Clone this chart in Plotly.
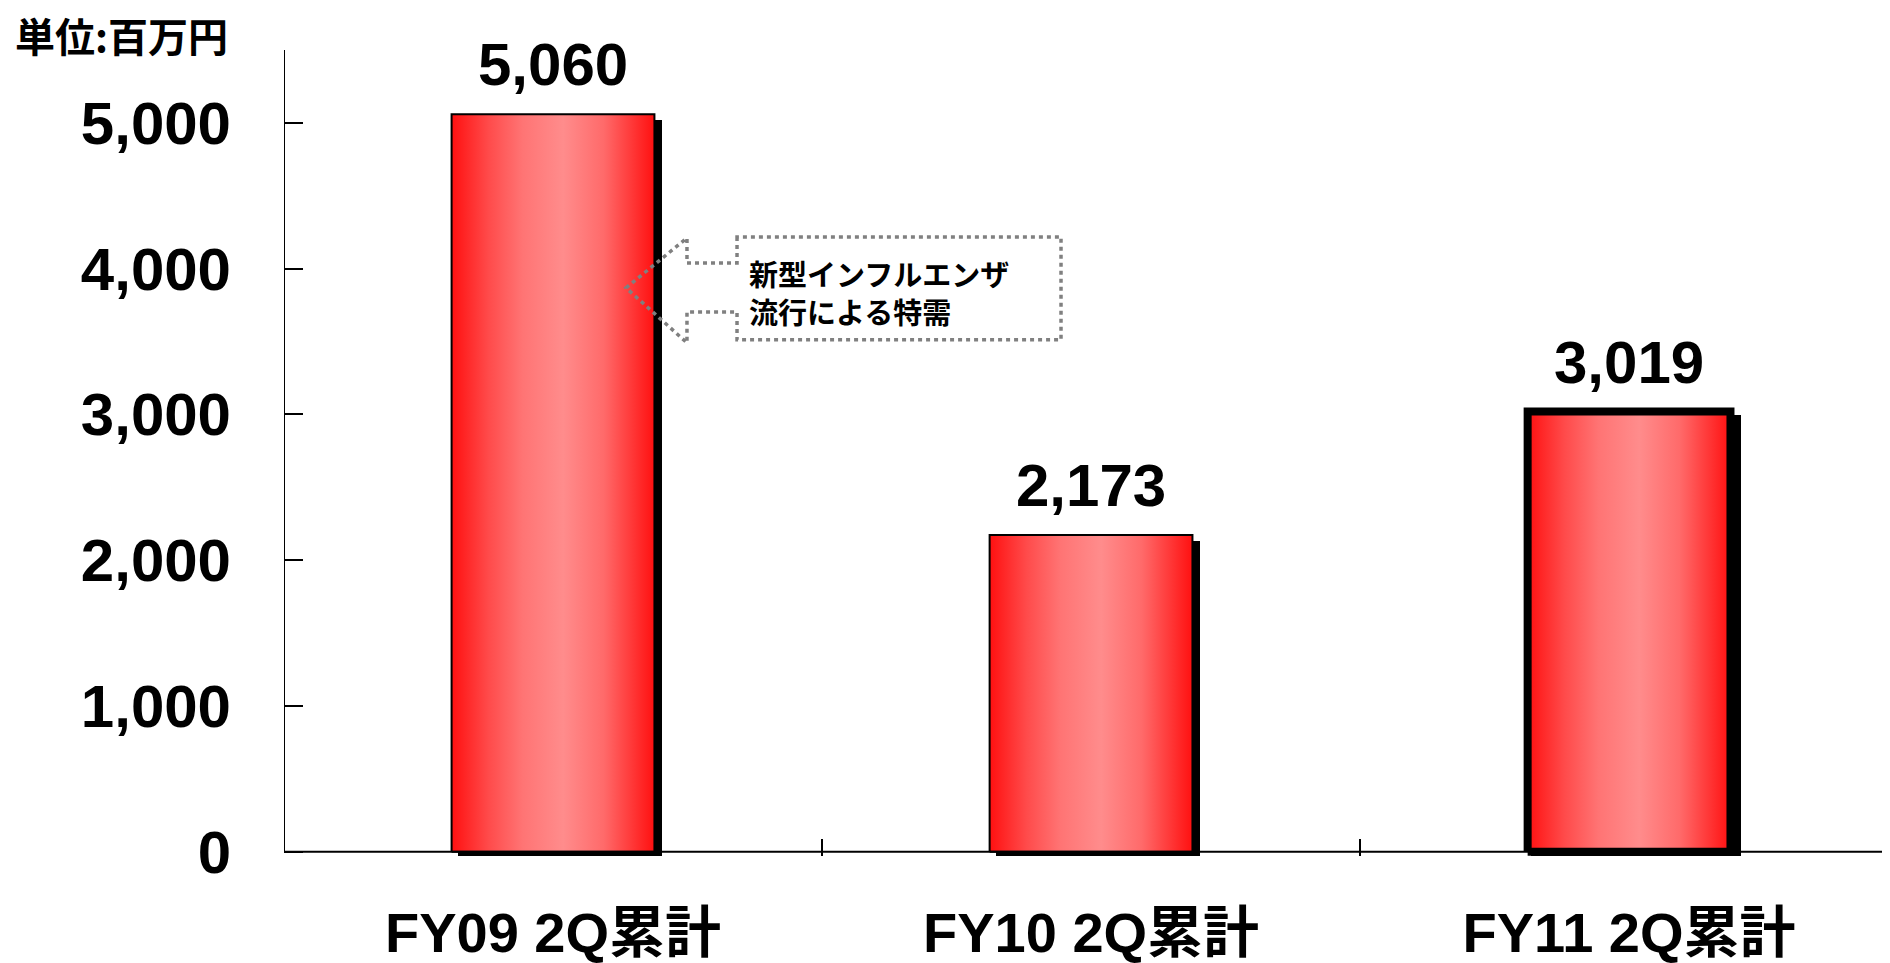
import plotly.graph_objects as go

# ---------------- data ----------------
categories = ["FY09 2Q累計", "FY10 2Q累計", "FY11 2Q累計"]
values = [5060, 2173, 3019]
y_tick_values = [0, 1000, 2000, 3000, 4000, 5000]
unit_label = "単位:百万円"
callout_lines = ["新型インフルエンザ", "流行による特需"]

# ---------------- style ----------------
FONT = "Liberation Sans, Noto Sans CJK JP, sans-serif"
CJK = "Noto Sans CJK JP, sans-serif"
BAR_W = 0.377
border_widths = [2, 2, 8]
Y_MIN, Y_MAX = -30, 5500
X_MIN, X_MAX = -0.5, 2.485

OFF = 8                      # page body margin of the html
W, H = 1890 - OFF, 963 - OFF
# target geometry in screenshot pixels
SCR_LEFT, SCR_ZERO, SCR_TOP = 284, 852, 50
px_per_y = (SCR_ZERO - SCR_TOP) / Y_MAX
SCR_BOTTOM = SCR_ZERO - Y_MIN * px_per_y
L = SCR_LEFT - OFF
T = SCR_TOP - OFF
B = H - (SCR_BOTTOM - OFF)
px_per_x = (W - L) / (X_MAX - X_MIN)
plot_h = SCR_BOTTOM - SCR_TOP


def px2x(p):
    return (p - SCR_LEFT) / px_per_x + X_MIN


def py2y(p):
    return (SCR_ZERO - p) / px_per_y


shadow_dx = 7 / px_per_x
shadow_dy = 7 / px_per_y

gradient = [[0.0, "#ff1010"], [0.18, "#ff4a4a"], [0.35, "#ff7474"],
            [0.55, "#ff8c8c"], [0.75, "#ff6a6a"], [0.9, "#ff3434"], [1.0, "#ff1010"]]

fig = go.Figure()

# shadows
fig.add_trace(go.Bar(
    x=[i + shadow_dx for i in range(len(values))],
    y=[v - shadow_dy - Y_MIN for v in values],
    base=[Y_MIN] * len(values),
    width=BAR_W,
    marker=dict(color="black", line=dict(color="black", width=border_widths)),
    hoverinfo="skip", showlegend=False,
))

# gradient bars
for i, v in enumerate(values):
    x0, x1 = i - BAR_W / 2, i + BAR_W / 2
    fig.add_trace(go.Scatter(
        x=[x0, x1, x1, x0, x0], y=[0, 0, v, v, 0],
        mode="lines", fill="toself",
        fillgradient=dict(type="horizontal", colorscale=gradient),
        line=dict(color="black", width=border_widths[i]),
        hoverinfo="skip", showlegend=False,
    ))

# value labels
for i, v in enumerate(values):
    fig.add_annotation(x=i, y=v, text=f"{v:,}", showarrow=False,
                       xanchor="center", yanchor="bottom", yshift=14,
                       font=dict(family=FONT, size=60, color="black", weight="bold"))

# axes lines as shapes (so that bars can overhang zero slightly)
fig.add_shape(type="line", xref="x", yref="y", x0=X_MIN, x1=X_MAX, y0=0, y1=0,
              line=dict(color="black", width=2), layer="above")
fig.add_shape(type="line", xref="x", yref="y", x0=X_MIN, x1=X_MIN, y0=0, y1=Y_MAX,
              line=dict(color="black", width=2), layer="above")

# callout (dotted box with arrow pointing left)
pts = [(737, 237), (737, 263), (687, 263), (687, 238), (626, 288), (687, 343),
       (687, 312), (737, 312), (737, 340), (1061, 340), (1061, 237)]
path = "M " + " L ".join(f"{px2x(a):.4f},{py2y(b):.2f}" for a, b in pts) + " Z"
fig.add_shape(type="path", xref="x", yref="y", path=path,
              line=dict(color="#808080", width=3.5, dash="4px,4px"), layer="above")
for k, line_text in enumerate(callout_lines):
    fig.add_annotation(x=px2x(748), y=py2y(273 + 38 * k), text=line_text,
                       showarrow=False, xanchor="left", yanchor="middle",
                       align="left", borderpad=0,
                       font=dict(family=CJK, size=29, color="black", weight="bold"))

# unit label
fig.add_annotation(xref="paper", yref="paper", x=(14 - SCR_LEFT) / (W - L),
                   y=(SCR_BOTTOM - 35) / plot_h, text=unit_label, showarrow=False,
                   xanchor="left", yanchor="middle", borderpad=0,
                   font=dict(family=CJK, size=40, color="black", weight="bold"))

fig.update_layout(
    width=W, height=H,
    margin=dict(l=L, r=0, t=T, b=B, pad=0),
    paper_bgcolor="white", plot_bgcolor="white",
    showlegend=False,
    bargap=0,
    xaxis=dict(range=[X_MIN, X_MAX], tickmode="array", tickvals=[0, 1, 2],
               ticktext=categories, ticks="", showgrid=False, zeroline=False,
               showline=False, ticklabelstandoff=39,
               tickfont=dict(family=FONT, size=56, color="black", weight="bold"),
               minor=dict(tickmode="array", tickvals=[0.5, 1.5], ticks="inside",
                          ticklen=17, tickwidth=2, tickcolor="black", showgrid=False)),
    yaxis=dict(range=[Y_MIN, Y_MAX], tickmode="array", tickvals=y_tick_values,
               tickformat=",", ticks="inside", ticklen=19, tickwidth=2,
               tickcolor="black", showgrid=False, zeroline=False, showline=False,
               ticklabelstandoff=52,
               tickfont=dict(family=FONT, size=60, color="black", weight="bold")),
)

fig.write_html("out.html")
